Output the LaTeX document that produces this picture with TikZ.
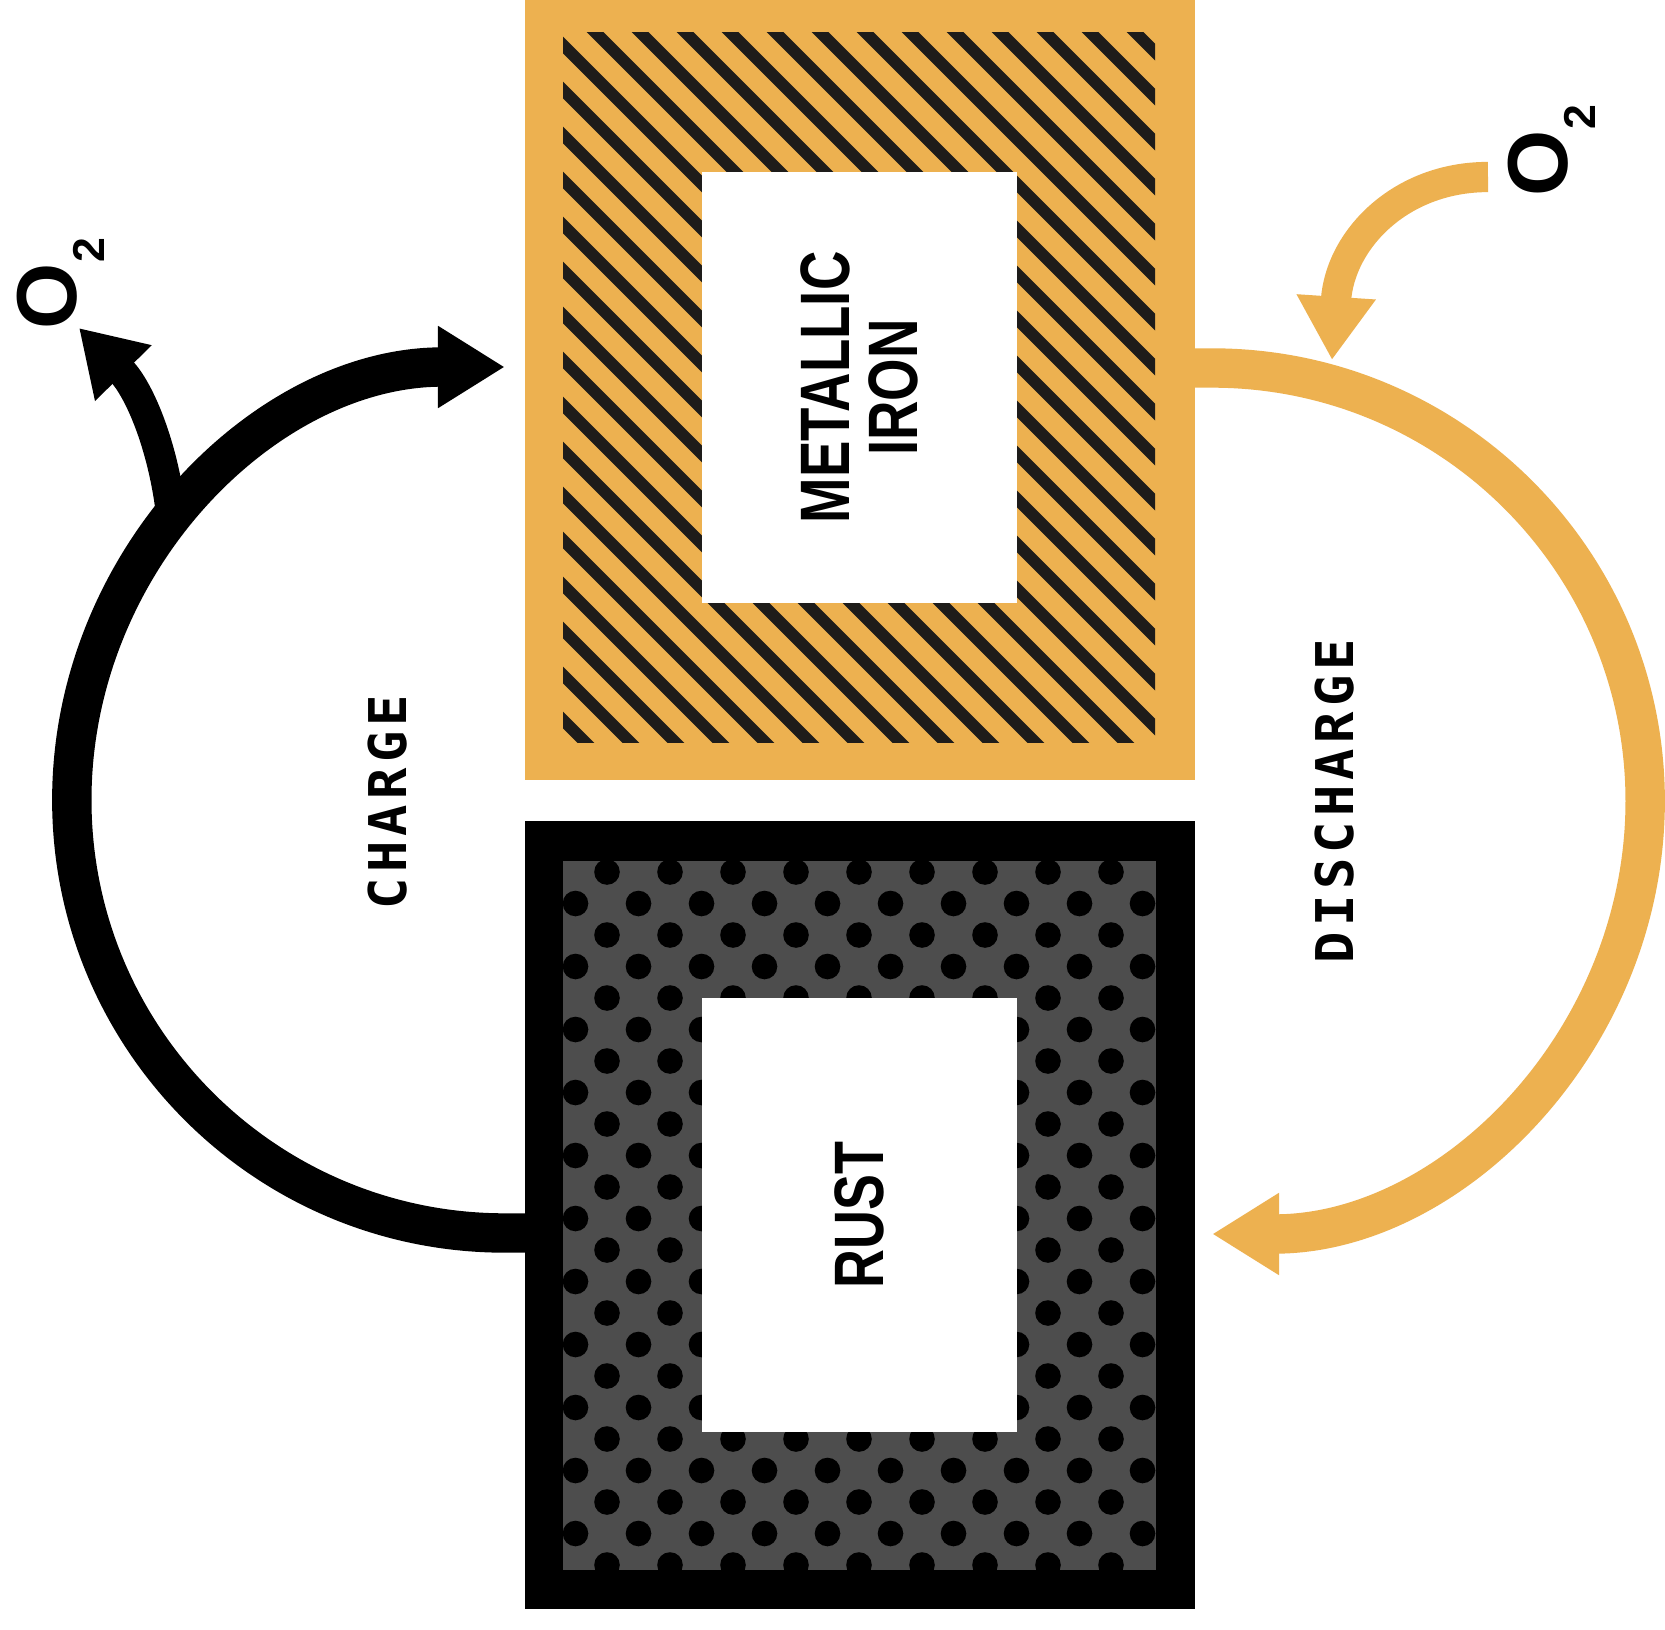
\documentclass[tikz,border=0pt]{standalone}
\usepackage{fontspec}
\usepackage{graphicx}
\usetikzlibrary{arrows.meta}
\newfontfamily\labsans{Liberation Sans}
\newfontfamily\labmono{DejaVu Sans Mono}
\definecolor{ironorange}{RGB}{237,177,80}
\definecolor{stripeblack}{RGB}{30,28,26}
\definecolor{rustgray}{RGB}{77,77,77}
\begin{document}
\begin{tikzpicture}[x=0.01cm,y=0.01cm,
  mainflow/.style={line width=11.2pt, -{Triangle[length=19pt,width=22pt]}},
  o2flow/.style={line width=8.6pt, -{Triangle[length=18pt,width=21.3pt]}},
  box/.style={inner sep=0pt, outer sep=0pt, draw=none},
  boxlabel/.style={rotate=90, inner sep=0pt, align=center, font={\labsans\bfseries\fontsize{19.9pt}{19.4pt}\selectfont}},
  flowlabel/.style={rotate=90, inner sep=0pt, font={\labmono\bfseries\fontsize{14.8pt}{14.8pt}\selectfont}},
  o2label/.style={rotate=90, inner sep=0pt, font={\labsans\bfseries\fontsize{24.2pt}{24.2pt}\selectfont}},
  stripe/.style={stripeblack, line width=3.4pt},
]
\useasboundingbox (0,0) rectangle (1665,-1630);
\fill[white] (0,0) rectangle (1665,-1630);

% metallic iron box
\node[box, fill=ironorange, minimum width=6.7cm, minimum height=7.8cm] (iron) at (860,-390) {};
\begin{scope}
  \clip (563,-32) rectangle (1155,-742);
  \foreach \k in {-1,...,29} \draw[stripe] ({-157+45*\k-50},50) -- ++(900,-900);
\end{scope}
\node[box, fill=white, minimum width=3.15cm, minimum height=4.31cm] (ironcore) at (859.5,-387.5) {};
\node[boxlabel] (ironlabel) at (ironcore) {\scalebox{0.78}[1]{METALLIC}\\\scalebox{0.78}[1]{IRON}};

% rust box
\node[box, fill=black, minimum width=6.7cm, minimum height=7.88cm] (rust) at (860,-1215) {};
\fill[rustgray] (563,-861) rectangle (1156,-1570);
\begin{scope}
  \clip (563,-861) rectangle (1156,-1570);
  \foreach \r in {0,2,...,22} \foreach \m in {-1,...,9} \fill ({607+63*\m},{-872-31.5*\r}) circle[radius=12.8];
  \foreach \r in {1,3,...,21} \foreach \m in {0,...,9} \fill ({575.5+63*\m},{-872-31.5*\r}) circle[radius=12.8];
\end{scope}
\node[box, fill=white, minimum width=3.15cm, minimum height=4.34cm] (rustcore) at (859.5,-1215) {};
\node[boxlabel] (rustlabel) at (rustcore) {\scalebox{0.77}[1]{RUST}};

% labels
\node[flowlabel] (chargelabel) at (388,-802) {C\kern1.5pt H\kern1.5pt A\kern1.5pt R\kern1.5pt G\kern1.5pt E};
\node[flowlabel] (dischargelabel) at (1335,-801) {D\kern1.5pt I\kern1.5pt S\kern1.5pt C\kern1.5pt H\kern1.5pt A\kern1.5pt R\kern1.5pt G\kern1.5pt E};
\node[o2label] (o2left) at (60.5,-283.5) {O\raisebox{-8pt}{\fontsize{12.7pt}{12.7pt}\selectfont 2}};
\node[o2label] (o2right) at (1551.5,-150.5) {O\raisebox{-8pt}{\fontsize{12.7pt}{12.7pt}\selectfont 2}};

% flows
\path (rust.west) ++(0,-18) coordinate (cstart);
\path (iron.east) ++(0,22) coordinate (dstart);
\coordinate (cbranch) at (172,-522);
\coordinate (o2lefttip) at (79,-328);
\coordinate (o2rstart) at (1488,-177);
\coordinate (o2righttip) at (1332,-360);

\draw[o2flow] (cbranch) .. controls (165,-450) and (140,-390) .. (o2lefttip);
\draw[mainflow] (cstart) -- ++(-20,0) arc[start angle=270, end angle=90, radius=433];
\draw[mainflow, ironorange] (dstart) -- ++(17,0) arc[start angle=90, end angle=-90, radius=433];
\draw[o2flow, ironorange] (o2rstart) .. controls (1400,-177) and (1340,-240) .. (o2righttip);
\end{tikzpicture}
\end{document}
